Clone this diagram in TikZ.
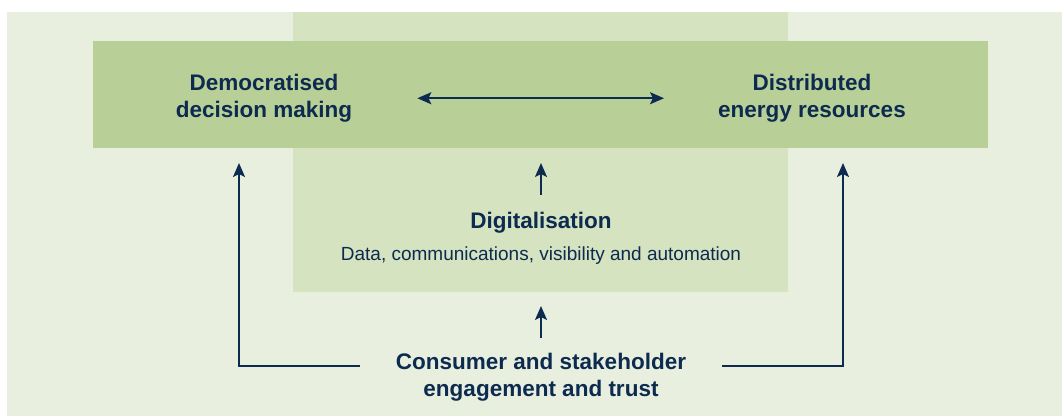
\documentclass[tikz,border=0pt]{standalone}
\usepackage{fontspec}
\setmainfont{Liberation Sans}
\usetikzlibrary{arrows.meta,positioning}
\definecolor{bgpale}{HTML}{E8EFDF}
\definecolor{bgmid}{HTML}{D5E3C1}
\definecolor{bgdark}{HTML}{B8CF97}
\definecolor{navy}{HTML}{0D2A4F}

\begin{document}
\begin{tikzpicture}[x=1bp,y=-1bp,
  panel/.style={fill=#1,inner sep=0pt,outer sep=0pt},
  headtext/.style={text=navy,font=\bfseries\fontsize{22.5bp}{27bp}\selectfont,align=center,inner sep=0pt,anchor=north},
  subtext/.style={text=navy,font=\fontsize{19bp}{23bp}\selectfont,inner sep=0pt,anchor=base},
  tip/.style={Stealth[length=14bp,width=12bp,inset=3bp]},
  flow/.style={draw=navy,line width=2bp,-{Stealth[length=14bp,width=12bp,inset=3bp]}}]
  \useasboundingbox (0,0) rectangle (1062,416);
  \fill[bgpale] (7,12) rectangle (1062,416);
  \node[panel=bgmid,minimum width=495bp,minimum height=280bp,anchor=north] (digi) at (540.5,12) {};
  \node[panel=bgdark,minimum width=895bp,minimum height=107bp,anchor=north] (top) at (540.5,41) {};

  \node[headtext] (dem) at (264,74) {Democratised\\decision making};
  \node[headtext] (der) at (812,74) {Distributed\\energy resources};
  \node[headtext,anchor=base] (dig) at (541,228) {Digitalisation};
  \node[subtext] (data) at (541,260) {Data, communications, visibility and automation};
  \node[headtext] (con) at (541,352.5) {Consumer and stakeholder\\engagement and trust};

  \coordinate (demin) at (239,163);
  \coordinate (derin) at (843,163);

  \draw[flow,{Stealth[length=14bp,width=12bp,inset=3bp]}-{Stealth[length=14bp,width=12bp,inset=3bp]},
    shorten <=65bp,shorten >=54bp] (dem) -- (der);
  \draw[flow] ([yshift=16.5bp]dig.north) -- ([yshift=-15bp]top.south -| dig.north);
  \draw[flow] ([yshift=14.5bp]con.north) -- ([yshift=-14bp]digi.south -| con.north);
  \draw[flow] ([xshift=-36bp,yshift=-13.5bp]con.north west) -| (demin);
  \draw[flow] ([xshift=36bp,yshift=-13.5bp]con.north east) -| (derin);
\end{tikzpicture}
\end{document}
